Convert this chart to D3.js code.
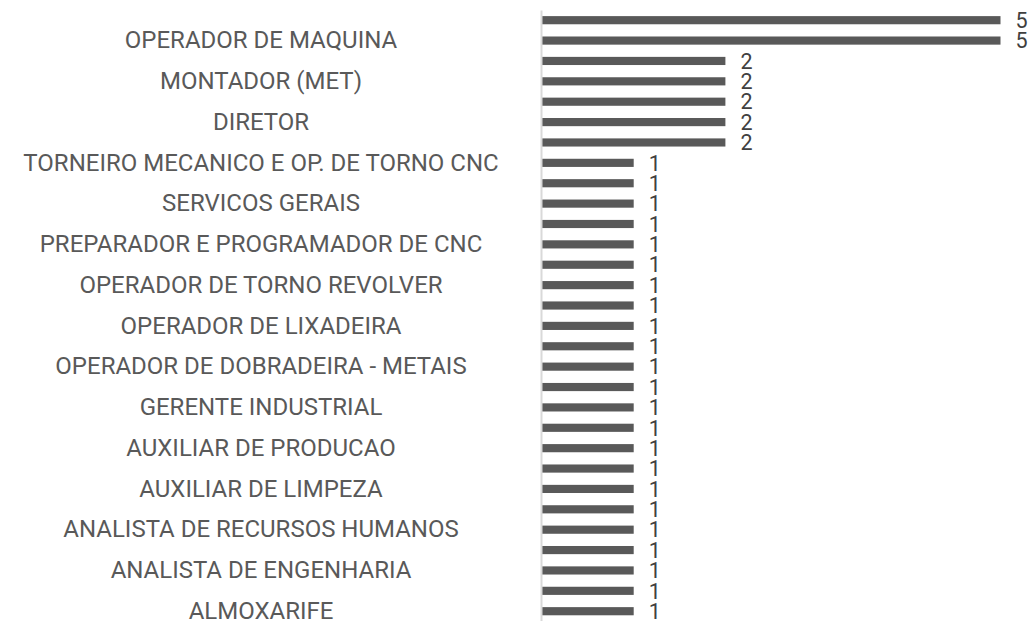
<!DOCTYPE html>
<meta charset="utf-8">
<script src="https://d3js.org/d3.v7.min.js"></script>
<style>
  body { margin: 0; background: #fff; }
  svg { display: block; font-family: Roboto, "Noto Sans", sans-serif; }
</style>
<body>
<svg id="chart" width="1030" height="621"></svg>

<script>
    // rows listed top to bottom; the axis only prints every second name,
    // the unprinted names are unknown so they are left blank here
    const categories = [
        "", "OPERADOR DE MAQUINA",
        "", "MONTADOR (MET)",
        "", "DIRETOR",
        "", "TORNEIRO MECANICO E OP. DE TORNO CNC",
        "", "SERVICOS GERAIS",
        "", "PREPARADOR E PROGRAMADOR DE CNC",
        "", "OPERADOR DE TORNO REVOLVER",
        "", "OPERADOR DE LIXADEIRA",
        "", "OPERADOR DE DOBRADEIRA - METAIS",
        "", "GERENTE INDUSTRIAL",
        "", "AUXILIAR DE PRODUCAO",
        "", "AUXILIAR DE LIMPEZA",
        "", "ANALISTA DE RECURSOS HUMANOS",
        "", "ANALISTA DE ENGENHARIA",
        "", "ALMOXARIFE"
    ];
    const values = [
        5, 5,
        2, 2, 2, 2, 2,
        1, 1, 1, 1, 1, 1, 1, 1, 1, 1, 1, 1, 1, 1, 1, 1, 1, 1, 1, 1, 1, 1, 1
    ];

    const svg = d3.select("#chart");
    const axisX = 541;
    const labelCenter = 261;

    const rows = values.map((v, i) => ({i: i, name: categories[i], value: v}));

    const y = d3.scaleBand()
        .domain(rows.map(d => d.i))
        .range([10, 621.4])
        .paddingInner(0.6)
        .paddingOuter(0.3);

    const x = d3.scaleLinear()
        .domain([0, 5])
        .range([542, 1000.5]);

    // bars
    svg.append("g")
        .selectAll("rect").data(rows)
        .join("rect")
        .attr("x", x(0))
        .attr("y", d => y(d.i))
        .attr("width", d => x(d.value) - x(0))
        .attr("height", y.bandwidth())
        .attr("fill", "#595959");

    // value labels
    svg.append("g")
        .selectAll("text").data(rows)
        .join("text")
        .attr("x", d => x(d.value) + 15)
        .attr("y", d => y(d.i) + y.bandwidth() / 2)
        .attr("dy", "0.36em")
        .attr("font-size", 21.5)
        .attr("fill", "#404040")
        .text(d => d.value);

    // category axis, labels centred in the left area
    const axis = svg.append("g")
        .attr("transform", `translate(${axisX},0)`)
        .call(d3.axisLeft(y)
            .tickSize(0)
            .tickSizeOuter(0)
            .tickFormat(i => categories[i]));

    axis.select(".domain")
        .attr("stroke", "#d9d9d9")
        .attr("stroke-width", 2);

    axis.selectAll(".tick text")
        .attr("x", labelCenter - axisX)
        .attr("text-anchor", "middle")
        .attr("font-family", "Roboto, sans-serif")
        .attr("font-size", 24)
        .attr("fill", "#595959");
</script>
</body>
